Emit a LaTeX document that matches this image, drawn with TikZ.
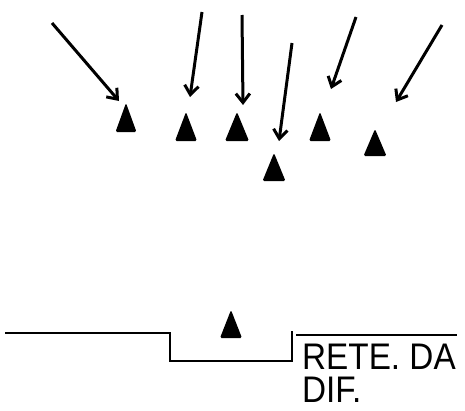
\documentclass[tikz,border=0pt]{standalone}
\usepackage{fontspec}
\setmainfont{Liberation Sans}
\usetikzlibrary{arrows.meta}
\begin{document}
\begin{tikzpicture}[x=1pt,y=-1pt,
  ray/.style={line width=3pt,-{Straight Barb[length=9pt,width=14pt,line width=3pt]}},
  cone/.style={fill=black,rounded corners=1.5pt},
  wall/.style={line width=2.6pt},
  lbl/.style={anchor=north west,inner sep=0pt,align=left,font=\fontsize{37}{33}\selectfont,xscale=0.9}]
\useasboundingbox (0,0) rectangle (465,410);
% triangles: apex and base
\foreach \n/\ax/\ay/\by/\hw in {t1/126/104/132/10.5, t2/186/113/141/11, t3/237/113/141/12, t4/274/154/181/11.5, t5/320/113/141/11, t6/375/130/156/11.5, t7/231/311/338/11}{
  \coordinate (\n) at (\ax,\ay);
  \fill[cone] (\ax,\ay-1) -- (\ax+\hw,\by) -- (\ax-\hw,\by) -- cycle;
}
% arrows
\coordinate (s1) at (52,23);   \coordinate (e1) at (119,101);
\coordinate (s2) at (202,12);  \coordinate (e2) at (190,97);
\coordinate (s3) at (242,15);  \coordinate (e3) at (243,105);
\coordinate (s4) at (292,43);  \coordinate (e4) at (279,141);
\coordinate (s5) at (356,17);  \coordinate (e5) at (331,89);
\coordinate (s6) at (442,25);  \coordinate (e6) at (396,102);
\foreach \i in {1,...,6}{\draw[ray] (s\i) -- (e\i);}
% ground profile
\coordinate (g1) at (5,333);
\coordinate (g2) at (170,333);
\coordinate (g3) at (170,361);
\coordinate (g4) at (292,361);
\coordinate (g5) at (292,331);
\coordinate (g6) at (296,335);
\coordinate (g7) at (457,335);
\draw[wall] (g1) -- (g2) -- (g3) -- (g4) -- (g5);
\draw[wall] (g6) -- (g7);
\node[lbl] (l1) at (302,344) {RETE. DA\\DIF.};
\end{tikzpicture}
\end{document}
